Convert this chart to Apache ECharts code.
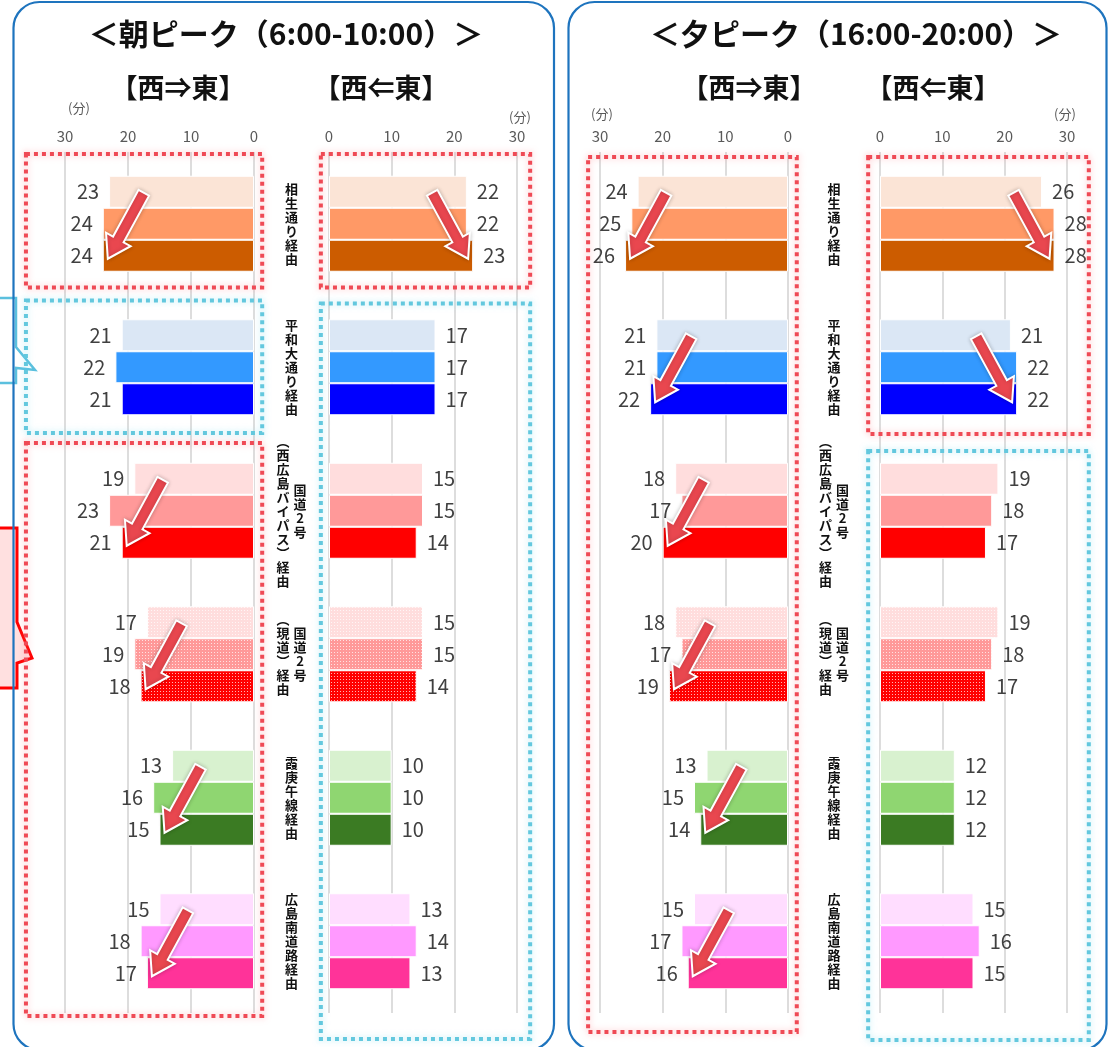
<!DOCTYPE html>
<html>
<head>
<meta charset="utf-8">
<script src="https://cdn.jsdelivr.net/npm/echarts@6/dist/echarts.min.js"></script>
<style>
html,body{margin:0;padding:0;background:#fff;}
#chart{width:1109px;height:1047px;}
</style>
</head>
<body>
<div id="chart"></div>
<script>
// ---- data ----
const routes = ['相生通り経由', '平和大通り経由', '国道2号（西広島バイパス）経由', '国道2号（現道）経由', '霞庚午線経由', '広島南道路経由'];

// morning peak, west -> east (three surveys, oldest first)
const amWE1 = [23, 21, 19, 17, 13, 15];
const amWE2 = [24, 22, 23, 19, 16, 18];
const amWE3 = [24, 21, 21, 18, 15, 17];
// morning peak, east -> west
const amEW1 = [22, 17, 15, 15, 10, 13];
const amEW2 = [22, 17, 15, 15, 10, 14];
const amEW3 = [23, 17, 14, 14, 10, 13];
// evening peak, west -> east
const pmWE1 = [24, 21, 18, 18, 13, 15];
const pmWE2 = [25, 21, 17, 17, 15, 17];
const pmWE3 = [26, 22, 20, 19, 14, 16];
// evening peak, east -> west
const pmEW1 = [26, 21, 19, 19, 12, 15];
const pmEW2 = [28, 22, 18, 18, 12, 16];
const pmEW3 = [28, 22, 17, 17, 12, 15];

const axisMin = 0, axisMax = 30, axisStep = 10;
const periodTitles = ['＜朝ピーク（6:00-10:00）＞', '＜夕ピーク（16:00-20:00）＞'];
const directionTitles = ['【西⇒東】', '【西⇐東】'];
const unitText = '(分)';

// routes that got slower (arrow) in each panel
const amWEArrows = [0, 2, 3, 4, 5];
const amEWArrows = [0];
const pmWEArrows = [0, 1, 2, 3, 4, 5];
const pmEWArrows = [0, 1];

// ---- styling ----
const FONT = "'Noto Sans CJK JP', 'Noto Sans', sans-serif";
const palette = [
  ['#FBE4D6', '#FF9966', '#CC5C00'],
  ['#DBE7F5', '#3399FF', '#0000FF'],
  ['#FFDDDD', '#FF9999', '#FF0000'],
  ['#FFDDDD', '#FF9999', '#FF0000'],
  ['#D8F1CF', '#8FD671', '#3B7B23'],
  ['#FFDDFF', '#FF99FF', '#FF3399']
];
const dottedRoute = 3;

function dotted(base) {
  const c = document.createElement('canvas');
  c.width = 3; c.height = 3;
  const g = c.getContext('2d');
  g.fillStyle = base; g.fillRect(0, 0, 3, 3);
  g.fillStyle = 'rgba(255,255,255,0.7)';
  g.fillRect(1, 1, 1, 1);
  return { image: c, repeat: 'repeat' };
}
function fillFor(route, k) {
  const col = palette[route][k];
  return route === dottedRoute ? dotted(col) : col;
}

// layout of the four bar panels and their annotation boxes
const panels = [
  { left: 65, width: 189, inverse: true, series: [amWE1, amWE2, amWE3], arrows: amWEArrows,
    boxX: [-1.3, 36.2], boxes: [[0, 0, 'up', 2, -8], [1, 1, 'flat', 5, -6], [2, 5, 'up', 4, 3]], unit: [14, 108] },
  { left: 329, width: 188, inverse: false, series: [amEW1, amEW2, amEW3], arrows: amEWArrows,
    boxX: [-1.3, 32.1], boxes: [[0, 0, 'up', 2, -8], [1, 5, 'flat', 8, 26]], unit: [3, 117] },
  { left: 600, width: 188, inverse: true, series: [pmWE1, pmWE2, pmWE3], arrows: pmWEArrows,
    boxX: [-1.4, 31.9], boxes: [[0, 5, 'up', 5, 19]], unit: [2, 114] },
  { left: 880, width: 187, inverse: false, series: [pmEW1, pmEW2, pmEW3], arrows: pmEWArrows,
    boxX: [-1.9, 33.5], boxes: [[0, 1, 'up', 5, -5], [2, 5, 'flat', 12, 27]], unit: [-2, 114] }
];
const GRID_TOP = 152, GRID_H = 861, BAR_W = 32;

const chart = echarts.init(document.getElementById('chart'), null, { renderer: 'canvas' });

const grid = [], xAxis = [], yAxis = [], series = [];
panels.forEach((p, i) => {
  grid.push({ left: p.left, width: p.width, top: GRID_TOP, height: GRID_H, containLabel: false });
  xAxis.push({
    type: 'value', gridIndex: i, position: 'top', inverse: p.inverse,
    min: axisMin, max: axisMax, interval: axisStep,
    axisLine: { show: false }, axisTick: { show: false },
    axisLabel: { color: '#595959', fontSize: 15, margin: 8, fontFamily: FONT },
    splitLine: { show: true, lineStyle: { color: '#d2d2d2', width: 1.5 } }
  });
  yAxis.push({ type: 'category', gridIndex: i, data: routes, inverse: true, show: false });
  p.series.forEach((vals, k) => {
    series.push({
      type: 'bar', name: 'survey' + (k + 1), xAxisIndex: i, yAxisIndex: i,
      barWidth: BAR_W, barGap: '0%',
      data: vals.map((v, r) => ({ value: v, itemStyle: { color: fillFor(r, k) } })),
      itemStyle: { borderColor: '#ffffff', borderWidth: 1 },
      label: {
        show: true, position: p.inverse ? 'left' : 'right', distance: 10,
        color: '#404040', fontSize: 20, fontFamily: FONT
      },
      silent: true, animation: false
    });
  });
});

chart.setOption({ animation: false, grid, xAxis, yAxis, series });

// ---- annotations drawn from the axes ----
const g = [];

// panel frames
g.push({ type: 'rect', z: 1, shape: { x: 13.5, y: 2, width: 540.5, height: 1048, r: 26 },
  style: { fill: 'none', stroke: '#1E74BE', lineWidth: 2.2 } });
g.push({ type: 'rect', z: 1, shape: { x: 568.5, y: 2, width: 538, height: 1048, r: 26 },
  style: { fill: 'none', stroke: '#1E74BE', lineWidth: 2.2 } });

// side callout tabs
g.push({ type: 'polygon', z: 0, shape: { points: [[-3, 298], [16, 298], [16, 347], [35, 370], [16, 368], [16, 383], [-3, 383]] },
  style: { fill: '#ffffff', stroke: '#5BC0DE', lineWidth: 2.5 } });
g.push({ type: 'polygon', z: 0, shape: { points: [[-3, 528], [17, 528], [17, 622], [32, 658], [17, 663], [17, 688], [-3, 688]] },
  style: { fill: '#FFE0E0', stroke: '#FF0000', lineWidth: 3 } });

// titles
function text(str, x, y, size, weight, color, extra) {
  g.push(Object.assign({ type: 'text', z: 30, style: {
    text: str, x, y, align: 'center', verticalAlign: 'middle',
    fontSize: size, fontWeight: weight, fill: color, fontFamily: FONT
  } }, extra || {}));
}
text(periodTitles[0], 286, 34, 30, 'bold', '#111');
text(periodTitles[1], 856, 34, 30, 'bold', '#111');

const yPix = (i, r) => chart.convertToPixel({ yAxisIndex: i }, routes[r]);
const xPix = (i, v) => chart.convertToPixel({ xAxisIndex: i }, v);
const band = yPix(0, 1) - yPix(0, 0);

panels.forEach((p, i) => {
  // direction header
  const x30 = xPix(i, axisMax);
  text(directionTitles[i % 2], i % 2 === 0 ? [178, 749][i >> 1] : [381, 933][i >> 1], 88, 27, 'bold', '#111');
  // unit
  text(unitText, x30 + p.unit[0], p.unit[1], 13, 'normal', '#595959');

  // dotted boxes
  p.boxes.forEach(b => {
    const top = yPix(i, b[0]) - band / 2 + b[3];
    const bot = yPix(i, b[1]) + band / 2 + b[4];
    const xa = xPix(i, p.boxX[0]), xb = xPix(i, p.boxX[1]);
    const up = b[2] === 'up';
    g.push({ type: 'rect', z: 10, shape: { x: Math.min(xa, xb), y: top, width: Math.abs(xb - xa), height: bot - top },
      style: { fill: 'none', stroke: up ? '#EF4A55' : '#63C8DE', lineWidth: 4, lineDash: [4, 4],
        shadowBlur: 6, shadowColor: up ? 'rgba(255,120,130,0.55)' : 'rgba(110,215,235,0.55)' } });
  });

  // arrows from the first bar towards the end of the latest bar
  p.arrows.forEach(r => {
    const v = p.series[2][r];
    const dir = p.inverse ? 1 : -1;          // direction back towards zero in pixels
    const tip = [xPix(i, v) + dir * 5, yPix(i, r) + BAR_W + 3];
    const tail = [tip[0] + dir * 36, tip[1] - 66];
    const dx = tip[0] - tail[0], dy = tip[1] - tail[1];
    const L = Math.hypot(dx, dy), ux = dx / L, uy = dy / L, nx = -uy, ny = ux;
    const hl = 22, sw = 6, hw = 14;
    const hx = tip[0] - ux * hl, hy = tip[1] - uy * hl;
    const pts = [
      [tail[0] + nx * sw, tail[1] + ny * sw], [hx + nx * sw, hy + ny * sw], [hx + nx * hw, hy + ny * hw],
      tip, [hx - nx * hw, hy - ny * hw], [hx - nx * sw, hy - ny * sw], [tail[0] - nx * sw, tail[1] - ny * sw]
    ];
    g.push({ type: 'polygon', z: 20, shape: { points: pts },
      style: { fill: '#E9474F', stroke: '#ffffff', lineWidth: 2,
        shadowBlur: 4, shadowColor: 'rgba(0,0,0,0.22)' } });
  });
});

// vertical route names between each pair of panels
const vert = ch => ({ '（': '︵', '）': '︶' }[ch] || ch);
[[0, 1], [2, 3]].forEach(([a, b]) => {
  const cx = (Math.max(xPix(a, 0), xPix(a, axisMax)) + Math.min(xPix(b, 0), xPix(b, axisMax))) / 2;
  routes.forEach((name, r) => {
    const cy = yPix(a, r);
    const cut = name.indexOf('（');
    const cols = cut > 0 ? [[name.slice(0, cut), 8.5], [name.slice(cut), -8.5]] : [[name, 0]];
    cols.forEach(([s, off]) => {
      g.push({ type: 'text', z: 30, style: {
        text: Array.from(s).map(vert).join('\n'), x: cx + off, y: cy,
        align: 'center', verticalAlign: 'middle', fontSize: 13, fontWeight: 'bold',
        lineHeight: 14, fill: '#111', fontFamily: FONT } });
    });
  });
});

chart.setOption({ graphic: g });
</script>
</body>
</html>
